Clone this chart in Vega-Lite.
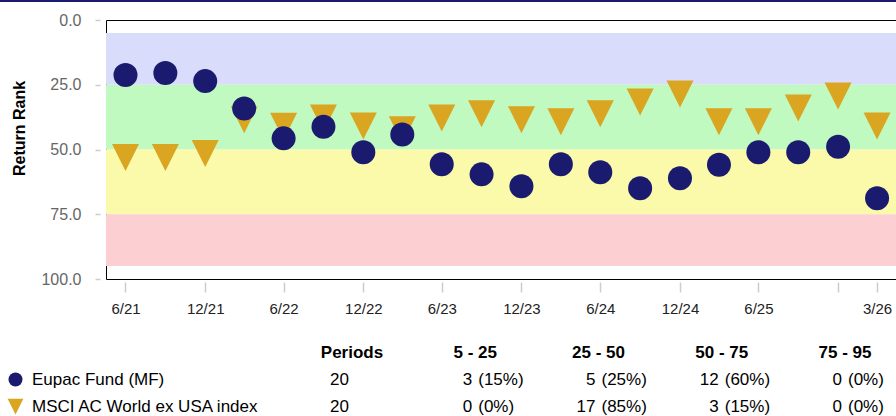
{
  "$schema": "https://vega.github.io/schema/vega-lite/v6.json",
  "autosize": {"type": "none"},
  "padding": {"left": 106, "top": 20, "right": 790, "bottom": 396},
  "background": "#ffffff",
  "bounds": "flush",
  "spacing": 61,
  "config": {"font": "Liberation Sans"},
  "vconcat": [
    {
      "width": 791,
      "height": 259,
      "view": {"stroke": "#000000", "strokeWidth": 1},
      "layer": [
        {
          "data": {"values": [
            {"band": "5 - 25", "lo": 5, "hi": 25},
            {"band": "25 - 50", "lo": 25, "hi": 50},
            {"band": "50 - 75", "lo": 50, "hi": 75},
            {"band": "75 - 95", "lo": 75, "hi": 95}
          ]},
          "mark": {"type": "rect"},
          "encoding": {
            "y": {
              "field": "lo", "type": "quantitative", "title": "Return Rank",
              "scale": {"domain": [0, 100], "reverse": true, "nice": false, "zero": false},
              "axis": {
                "values": [0, 25, 50, 75, 100], "format": ".1f",
                "labelFontSize": 16, "labelColor": "#666666", "labelPadding": 14,
                "tickSize": 5, "tickColor": "#cccccc", "tickWidth": 1.5, "offset": 6,
                "domain": false, "grid": false,
                "titleFontSize": 16, "titleFontWeight": "bold", "titleColor": "#000000",
                "titleX": -73, "titleY": 108
              }
            },
            "y2": {"field": "hi"},
            "fill": {
              "field": "band", "type": "nominal", "legend": null,
              "scale": {"domain": ["5 - 25", "25 - 50", "50 - 75", "75 - 95"],
                        "range": ["#dadcfc", "#c0fac0", "#fafaaa", "#fccfd2"]}
            }
          }
        },
        {
          "data": {"values": [{}]},
          "mark": {"type": "rule", "color": "#1a1a6e", "strokeWidth": 3},
          "encoding": {
            "y": {"datum": -7.5, "type": "quantitative"},
            "x": {"datum": 1577836800000, "type": "temporal"},
            "x2": {"datum": 1798761600000}
          }
        },
        {
          "data": {"values": [
            {"date": "2021-06-30", "series": "MSCI AC World ex USA index", "rank": 53.1},
            {"date": "2021-09-30", "series": "MSCI AC World ex USA index", "rank": 53.1},
            {"date": "2021-12-31", "series": "MSCI AC World ex USA index", "rank": 51.5},
            {"date": "2022-03-31", "series": "MSCI AC World ex USA index", "rank": 38.5},
            {"date": "2022-06-30", "series": "MSCI AC World ex USA index", "rank": 41.0},
            {"date": "2022-09-30", "series": "MSCI AC World ex USA index", "rank": 37.8},
            {"date": "2022-12-31", "series": "MSCI AC World ex USA index", "rank": 40.9},
            {"date": "2023-03-31", "series": "MSCI AC World ex USA index", "rank": 42.4},
            {"date": "2023-06-30", "series": "MSCI AC World ex USA index", "rank": 37.8},
            {"date": "2023-09-30", "series": "MSCI AC World ex USA index", "rank": 36.2},
            {"date": "2023-12-31", "series": "MSCI AC World ex USA index", "rank": 38.5},
            {"date": "2024-03-31", "series": "MSCI AC World ex USA index", "rank": 39.3},
            {"date": "2024-06-30", "series": "MSCI AC World ex USA index", "rank": 36.2},
            {"date": "2024-09-30", "series": "MSCI AC World ex USA index", "rank": 31.7},
            {"date": "2024-12-31", "series": "MSCI AC World ex USA index", "rank": 28.6},
            {"date": "2025-03-31", "series": "MSCI AC World ex USA index", "rank": 39.3},
            {"date": "2025-06-30", "series": "MSCI AC World ex USA index", "rank": 39.3},
            {"date": "2025-09-30", "series": "MSCI AC World ex USA index", "rank": 34.0},
            {"date": "2025-12-31", "series": "MSCI AC World ex USA index", "rank": 29.3},
            {"date": "2026-03-31", "series": "MSCI AC World ex USA index", "rank": 40.9},
            {"date": "2021-06-30", "series": "Eupac Fund (MF)", "rank": 21.2},
            {"date": "2021-09-30", "series": "Eupac Fund (MF)", "rank": 20.5},
            {"date": "2021-12-31", "series": "Eupac Fund (MF)", "rank": 23.6},
            {"date": "2022-03-31", "series": "Eupac Fund (MF)", "rank": 34.2},
            {"date": "2022-06-30", "series": "Eupac Fund (MF)", "rank": 45.7},
            {"date": "2022-09-30", "series": "Eupac Fund (MF)", "rank": 41.2},
            {"date": "2022-12-31", "series": "Eupac Fund (MF)", "rank": 51.1},
            {"date": "2023-03-31", "series": "Eupac Fund (MF)", "rank": 44.2},
            {"date": "2023-06-30", "series": "Eupac Fund (MF)", "rank": 55.7},
            {"date": "2023-09-30", "series": "Eupac Fund (MF)", "rank": 59.6},
            {"date": "2023-12-31", "series": "Eupac Fund (MF)", "rank": 64.2},
            {"date": "2024-03-31", "series": "Eupac Fund (MF)", "rank": 55.7},
            {"date": "2024-06-30", "series": "Eupac Fund (MF)", "rank": 58.8},
            {"date": "2024-09-30", "series": "Eupac Fund (MF)", "rank": 65.0},
            {"date": "2024-12-31", "series": "Eupac Fund (MF)", "rank": 61.1},
            {"date": "2025-03-31", "series": "Eupac Fund (MF)", "rank": 55.9},
            {"date": "2025-06-30", "series": "Eupac Fund (MF)", "rank": 51.1},
            {"date": "2025-09-30", "series": "Eupac Fund (MF)", "rank": 51.1},
            {"date": "2025-12-31", "series": "Eupac Fund (MF)", "rank": 48.9},
            {"date": "2026-03-31", "series": "Eupac Fund (MF)", "rank": 68.8}
          ]},
          "mark": {"type": "point", "filled": true, "opacity": 1, "size": 576, "strokeWidth": 0},
          "encoding": {
            "x": {
              "field": "date", "type": "temporal",
              "scale": {"type": "utc", "domain": [
                {"year": 2021, "month": 5, "date": 16, "utc": true},
                {"year": 2026, "month": 5, "date": 16, "utc": true}
              ]},
              "axis": {
                "values": [
                  {"year": 2021, "month": 6, "date": 30, "utc": true},
                  {"year": 2021, "month": 12, "date": 31, "utc": true},
                  {"year": 2022, "month": 6, "date": 30, "utc": true},
                  {"year": 2022, "month": 12, "date": 31, "utc": true},
                  {"year": 2023, "month": 6, "date": 30, "utc": true},
                  {"year": 2023, "month": 12, "date": 31, "utc": true},
                  {"year": 2024, "month": 6, "date": 30, "utc": true},
                  {"year": 2024, "month": 12, "date": 31, "utc": true},
                  {"year": 2025, "month": 6, "date": 30, "utc": true},
                  {"year": 2025, "month": 12, "date": 31, "utc": true},
                  {"year": 2026, "month": 3, "date": 31, "utc": true}
                ],
                "format": "%-m/%y",
                "labelExpr": "datum.label == '12/25' ? '' : datum.label",
                "labelFontSize": 15, "labelColor": "#222222", "labelPadding": 9,
                "labelFlush": false, "labelOverlap": false,
                "tickSize": 10, "tickColor": "#cccccc", "tickWidth": 1.5, "offset": 3,
                "domain": false, "grid": false, "title": null
              }
            },
            "y": {"field": "rank", "type": "quantitative", "title": "Return Rank"},
            "color": {
              "field": "series", "type": "nominal",
              "scale": {"domain": ["Eupac Fund (MF)", "MSCI AC World ex USA index"],
                        "range": ["#1a1a6e", "#daa520"]},
              "legend": {
                "orient": "none", "legendX": -99, "legendY": 351, "title": null,
                "labelFontSize": 17, "labelColor": "#000000", "labelOffset": 8, "labelLimit": 400,
                "symbolSize": 196, "rowPadding": 9, "symbolStrokeWidth": 0, "padding": 0
              }
            },
            "shape": {
              "field": "series", "type": "nominal",
              "scale": {"domain": ["Eupac Fund (MF)", "MSCI AC World ex USA index"],
                        "range": ["circle", "M-1.125,-1.125L1.125,-1.125L0,1.125Z"]},
              "legend": {
                "orient": "none", "legendX": -99, "legendY": 351, "title": null,
                "labelFontSize": 17, "labelColor": "#000000", "labelOffset": 8, "labelLimit": 400,
                "symbolSize": 196, "rowPadding": 9, "symbolStrokeWidth": 0, "padding": 0
              }
            }
          }
        }
      ]
    },
    {
      "width": 791,
      "height": 80,
      "view": {"stroke": null},
      "data": {"values": [
        {"row": "header", "col": "Periods"},
        {"row": "header", "col": "5 - 25"},
        {"row": "header", "col": "25 - 50"},
        {"row": "header", "col": "50 - 75"},
        {"row": "header", "col": "75 - 95"},
        {"row": "Eupac Fund (MF)", "col": "Periods", "count": "20", "pct": ""},
        {"row": "Eupac Fund (MF)", "col": "5 - 25", "count": "3", "pct": "(15%)"},
        {"row": "Eupac Fund (MF)", "col": "25 - 50", "count": "5", "pct": "(25%)"},
        {"row": "Eupac Fund (MF)", "col": "50 - 75", "count": "12", "pct": "(60%)"},
        {"row": "Eupac Fund (MF)", "col": "75 - 95", "count": "0", "pct": "(0%)"},
        {"row": "MSCI AC World ex USA index", "col": "Periods", "count": "20", "pct": ""},
        {"row": "MSCI AC World ex USA index", "col": "5 - 25", "count": "0", "pct": "(0%)"},
        {"row": "MSCI AC World ex USA index", "col": "25 - 50", "count": "17", "pct": "(85%)"},
        {"row": "MSCI AC World ex USA index", "col": "50 - 75", "count": "3", "pct": "(15%)"},
        {"row": "MSCI AC World ex USA index", "col": "75 - 95", "count": "0", "pct": "(0%)"}
      ]},
      "encoding": {
        "x": {"field": "col", "type": "nominal", "axis": null,
              "scale": {"type": "point", "domain": ["Periods", "5 - 25", "25 - 50", "50 - 75", "75 - 95"],
                        "range": [246, 739], "padding": 0}},
        "y": {"field": "row", "type": "nominal", "axis": null,
              "scale": {"type": "point", "domain": ["header", "Eupac Fund (MF)", "MSCI AC World ex USA index"],
                        "padding": 0.5}}
      },
      "layer": [
        {
          "transform": [{"filter": "datum.row == 'header'"}],
          "mark": {"type": "text", "fontSize": 17, "fontWeight": "bold", "color": "#000000", "align": "center", "baseline": "middle"},
          "encoding": {"text": {"field": "col"}}
        },
        {
          "transform": [{"filter": "datum.row != 'header'"}],
          "mark": {"type": "text", "fontSize": 17, "color": "#000000", "align": "right", "baseline": "middle", "dx": -3},
          "encoding": {"text": {"field": "count"}}
        },
        {
          "transform": [{"filter": "datum.row != 'header'"}],
          "mark": {"type": "text", "fontSize": 17, "color": "#000000", "align": "left", "baseline": "middle", "dx": 3},
          "encoding": {"text": {"field": "pct"}}
        }
      ]
    }
  ]
}
